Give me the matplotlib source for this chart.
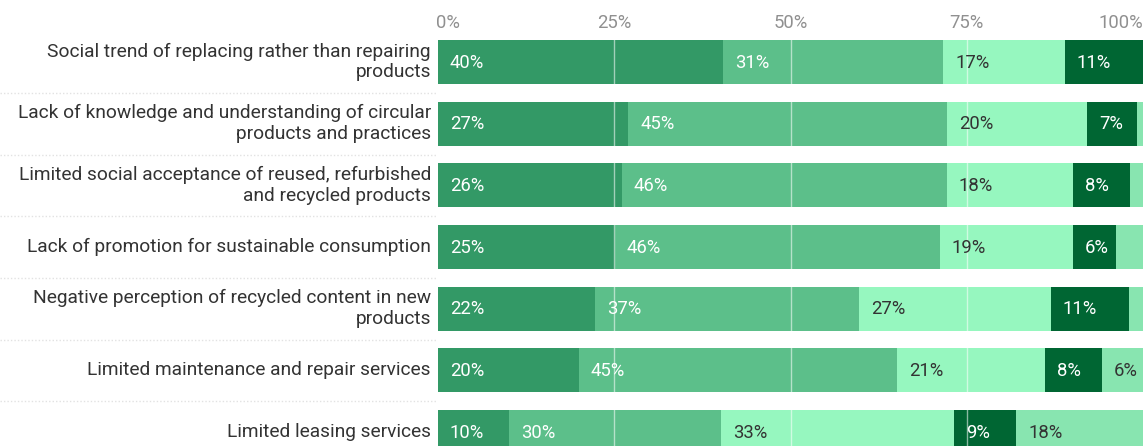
import matplotlib
matplotlib.use("Agg")
import matplotlib.pyplot as plt
import matplotlib.transforms as mtransforms
import numpy as np

plt.rcParams['font.family'] = ['Roboto', 'DejaVu Sans']

categories = [
    "Social trend of replacing rather than repairing\nproducts",
    "Lack of knowledge and understanding of circular\nproducts and practices",
    "Limited social acceptance of reused, refurbished\nand recycled products",
    "Lack of promotion for sustainable consumption",
    "Negative perception of recycled content in new\nproducts",
    "Limited maintenance and repair services",
    "Limited leasing services",
]

s1 = [40.4, 27.0, 26.1, 25.1, 22.3, 20.0, 10.1]
s2 = [31.3, 45.2, 46.1, 46.1, 37.4, 45.1, 30.0]
s3 = [17.2, 19.9, 17.9, 18.9, 27.2, 21.0, 33.1]
s4 = [11.1, 7.0, 8.1, 6.1, 11.1, 8.1, 8.8]
s5 = [0.0, 0.9, 1.8, 3.8, 2.0, 5.8, 18.0]

series = [s1, s2, s3, s4, s5]
colors = ["#339966", "#5cbf8a", "#96f7bf", "#006633", "#88e5b0"]
text_colors = ["white", "white", "#333333", "white", "#333333"]

tick_vals = [0, 25, 50, 75, 100]
tick_labels = ["0%", "25%", "50%", "75%", "100%"]

W, H = 1143, 446
fig = plt.figure(figsize=(W / 100, H / 100), dpi=100)

left_px = 438
top_px = 62 - 0.5 * 61.67
bot_px = 432 + 0.5 * 61.67
ax = fig.add_axes([left_px / W, 1 - bot_px / H, 1 - left_px / W, (bot_px - top_px) / H])

y = np.arange(len(categories))
left = np.zeros(len(categories))
for vals, c, tc in zip(series, colors, text_colors):
    vals = np.array(vals)
    ax.barh(y, vals, left=left, height=0.715, color=c, edgecolor='none', zorder=2)
    for yi, (l, v) in enumerate(zip(left, vals)):
        if v >= 5:
            ax.text(l + 1.7, yi + 0.01, f"{round(v):.0f}%", color=tc, fontsize=13.3,
                    va='center', ha='left', zorder=4)
    left = left + vals

ax.set_xlim(0, 100)
ax.set_ylim(len(categories) - 0.5, -0.5)

for v in [25, 50, 75]:
    ax.axvline(v, color='white', alpha=0.55, lw=1, zorder=3)

for s in ax.spines.values():
    s.set_visible(False)
ax.set_xticks([])
ax.set_yticks([])

# top tick labels at fixed pixel height
tr = mtransforms.blended_transform_factory(ax.transData, fig.transFigure)
for v, lab in zip(tick_vals, tick_labels):
    ha = 'left' if v == 0 else ('right' if v == 100 else 'center')
    xx = v - 0.3 if v == 0 else v
    ax.text(xx, 1 - 23 / H, lab, transform=tr, ha=ha, va='center',
            fontsize=13.3, color='#909090', clip_on=False)

# category labels
for yi, cat in enumerate(categories):
    ax.text(-1.0, yi, cat, ha='right', va='center', fontsize=13.8,
            color='#333333', linespacing=1.18, clip_on=False)

# dotted separators spanning full width
for yi in range(len(categories) - 1):
    ypx = 62 + 61.67 * yi + 61.67 / 2
    fig.add_artist(plt.Line2D([0, 1], [1 - ypx / H, 1 - ypx / H],
                              transform=fig.transFigure, color='#e2e2e2',
                              lw=1, ls=(0, (1, 1.5)), zorder=0))

fig.savefig("out.png", dpi=100)
